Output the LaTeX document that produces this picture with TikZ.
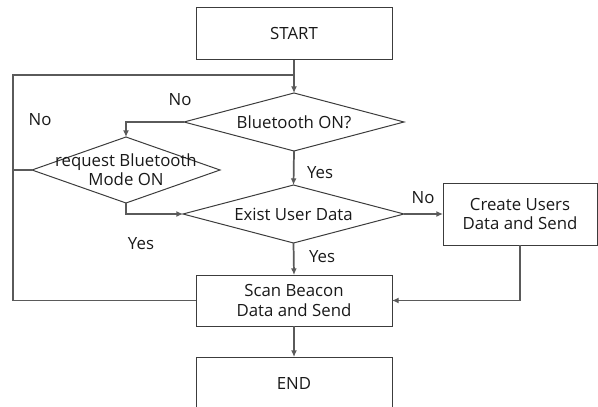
\documentclass[tikz,border=0pt]{standalone}
\usepackage{fontspec}
\setmainfont{Open Sans}
\usetikzlibrary{shapes.geometric,arrows.meta}
\definecolor{linegray}{HTML}{5A5A5A}
\definecolor{boxgray}{HTML}{3C3C3C}
\begin{document}
\begin{tikzpicture}[x=0.75pt,y=-0.75pt,
    every node/.style={font=\fontsize{12.6}{14.5}\selectfont, text=black!90},
    box/.style={draw=boxgray, line width=0.75pt, rectangle, outer sep=0pt, align=center},
    decision/.style={draw=boxgray, line width=0.75pt, diamond, inner sep=0pt, outer sep=0pt},
    flow/.style={draw=linegray, line width=1.3pt, -{Latex[length=5pt,width=4.5pt]}},
    loopline/.style={draw=linegray, line width=1.3pt}]
    \useasboundingbox (0,0) rectangle (598,406);
    \node[box, minimum width=147pt, minimum height=39pt] (start) at (294,34) {START};
    \node[decision, minimum width=165pt, minimum height=43.5pt,
          label={center:Bluetooth ON?}] (bt) at (294,122) {};
    \node[decision, minimum width=141pt, minimum height=49.5pt,
          label={[align=center]center:request Bluetooth\\Mode ON}] (req) at (126,170) {};
    \node[decision, minimum width=165.75pt, minimum height=43.5pt,
          label={center:Exist User Data}] (exist) at (293.5,214) {};
    \node[box, minimum width=115.5pt, minimum height=46.5pt] (create) at (520,214) {Create Users\\Data and Send};
    \node[box, minimum width=147pt, minimum height=38.25pt] (scan) at (294,300.5) {Scan Beacon\\Data and Send};
    \node[box, minimum width=147pt, minimum height=39pt] (end) at (294,383) {END};
    \coordinate (loop) at (13,75);
    \draw[flow] (start.south) -- (bt.north);
    \draw[loopline] (scan.west) -| (loop) -- (loop -| start.south);
    \draw[loopline] (req.west) -- (req.west -| loop);
    \draw[flow] (bt.west) -| (req.north);
    \draw[flow] (req.south) |- (exist.west);
    \draw[flow] (bt.south) -- (exist.north);
    \draw[flow] (exist.east) -- (create.west);
    \draw[flow] (exist.south) -- (scan.north);
    \draw[flow] (create.south) |- (scan.east);
    \draw[flow] (scan.south) -- (end.north);
    \node (nobt) at (180,100) {No};
    \node (noreq) at (40,120) {No};
    \node (yesreq) at (141,244) {Yes};
    \node (yesbt) at (320,173) {Yes};
    \node (noexist) at (423,198) {No};
    \node (yesexist) at (322,257) {Yes};
\end{tikzpicture}
\end{document}
